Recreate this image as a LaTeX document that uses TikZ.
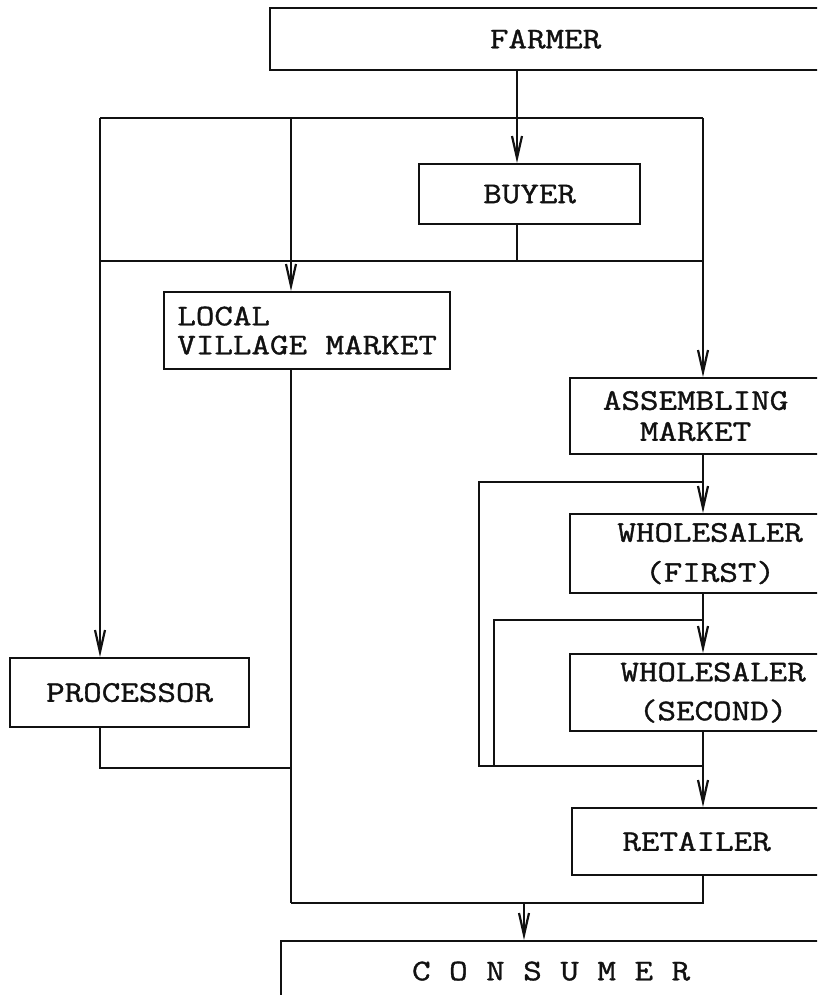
\documentclass[tikz,border=0pt]{standalone}
\usepackage{fontspec}
\setmonofont[FakeStretch=1.2, FakeBold=1.2]{Latin Modern Mono}
\usepackage{tikz}
\usetikzlibrary{arrows.meta,positioning}
\definecolor{cInk}{HTML}{111111}

\begin{document}
\begin{tikzpicture}[x=1pt, y=-1pt,
  font=\ttfamily\fontsize{30}{36}\selectfont,
  >={Straight Barb[length=22pt,width=10pt]},
  box/.style={rectangle, draw=cInk, line width=2.2pt, inner sep=0pt,
     anchor=north west, align=center, text=cInk},
  flow/.style={->, line width=2.2pt, draw=cInk},
  link/.style={line width=2.2pt, draw=cInk},
]
\clip (0,0) rectangle (817,995);

% =================== BOXES ===================
\node[box, minimum width=551pt, minimum height=62pt] (farmer) at (269,7) {FARMER};
\node[box, minimum width=221pt, minimum height=60pt] (buyer) at (418,163) {BUYER};
\node[box, minimum width=286pt, minimum height=77pt, align=left] (lvm) at (163,291)
 {LOCAL\\[-7pt]VILLAGE MARKET};
\node[box, minimum width=251pt, minimum height=76pt] (assembling) at (569,377)
 {ASSEMBLING\\[-5pt]MARKET};
\node[box, minimum width=280pt, minimum height=79pt] (wsfirst) at (569,513)
 {WHOLESALER\\[4pt](FIRST)};
\node[box, minimum width=286pt, minimum height=77pt] (wssecond) at (569,653)
 {WHOLESALER\\[3pt](SECOND)};
\node[box, minimum width=239pt, minimum height=69pt] (processor) at (9,657) {PROCESSOR};
\node[box, minimum width=249pt, minimum height=67pt] (retailer) at (571,807) {RETAILER};
\node[box, minimum width=540pt, minimum height=60pt] (consumer) at (280,940)
 {C O N S U M E R};

% =================== JUNCTIONS ===================
\coordinate (fb) at (517,118);
\coordinate (tl) at (100,118);
\coordinate (tm) at (291,118);
\coordinate (tr) at (703,118);
\coordinate (ml) at (100,261);
\coordinate (mr) at (703,261);
\coordinate (pj) at (291,768);
\coordinate (l1) at (703,482);
\coordinate (k1) at (479,766);
\coordinate (l2) at (703,620);
\coordinate (k2) at (494,766);
\coordinate (lb) at (703,766);
\coordinate (cl) at (291,903);
\coordinate (cj) at (524,903);

% =================== FLOWS ===================
\draw[flow] (farmer.south -| fb) -- (buyer.north -| fb);
\draw[link] (tl) -- (tr);
\draw[flow] (tl) -- (processor.north -| tl);
\draw[flow] (tm) -- (lvm.north -| tm);
\draw[flow] (tr) -- (assembling.north -| tr);
\draw[link] (buyer.south -| fb) -- (fb |- ml);
\draw[link] (ml) -- (mr);

\draw[link] (lvm.south -| tm) -- (cl);
\draw[link] (processor.south -| tl) |- (pj);

\draw[flow] (assembling.south -| tr) -- (wsfirst.north -| tr);
\draw[link] (l1) -| (k1) -- (lb);
\draw[flow] (wsfirst.south -| tr) -- (wssecond.north -| tr);
\draw[link] (l2) -| (k2);
\draw[flow] (wssecond.south -| tr) -- (retailer.north -| tr);
\draw[link] (retailer.south -| tr) |- (cl);
\draw[flow] (cj) -- (consumer.north -| cj);

\end{tikzpicture}
\end{document}
